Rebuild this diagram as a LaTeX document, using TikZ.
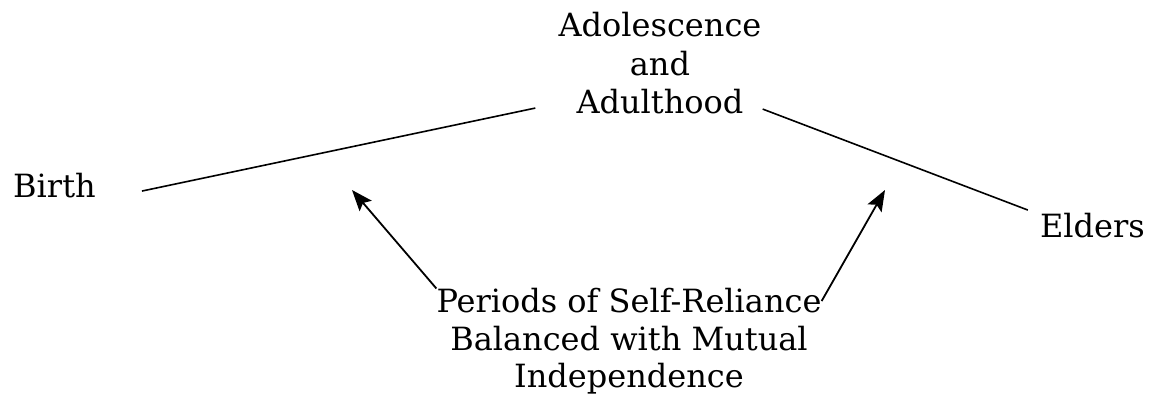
\documentclass[tikz,border=0pt]{standalone}
\usepackage{fontspec}
\setmainfont{DejaVu Serif}
\usetikzlibrary{arrows.meta}
\tikzset{lifetext/.style={font=\fontsize{32}{38}\selectfont, inner sep=0pt, anchor=base}}
\tikzset{stage/.style={black, line width=1.6pt}}
\tikzset{pointer/.style={black, line width=1.8pt, -{Stealth[length=21pt,width=16pt,inset=4pt]}}}

\begin{document}
\begin{tikzpicture}[x=1pt,y=1pt]
      \useasboundingbox (0,0) rectangle (1149,404);

      \node [lifetext] (adol) at (660,367) {Adolescence};
      \node [lifetext] (andtxt) at (660,328.5) {and};
      \node [lifetext] (adult) at (660,290) {Adulthood};

      \node [lifetext, anchor=base west] (birth) at (13,206) {Birth};
      \node [lifetext, anchor=base east] (elders) at (1145,166) {Elders};

      \node [lifetext] (periods) at (629,91) {Periods of Self-Reliance};
      \node [lifetext] (balanced) at (629,53) {Balanced with Mutual};
      \node [lifetext] (indep) at (629,16) {Independence};

      \coordinate (tipL) at (352,214);
      \coordinate (tipR) at (885,214);

      \draw [stage] ([shift={(46,-5)}]birth.east) -- ([shift={(-41,-6)}]adult.west);
      \draw [stage] ([shift={(19,-7)}]adult.east) -- ([shift={(-12,16)}]elders.west);

      \draw [pointer] (periods.north west) -- (tipL);
      \draw [pointer] (periods.east) -- (tipR);

    \end{tikzpicture}
\end{document}
